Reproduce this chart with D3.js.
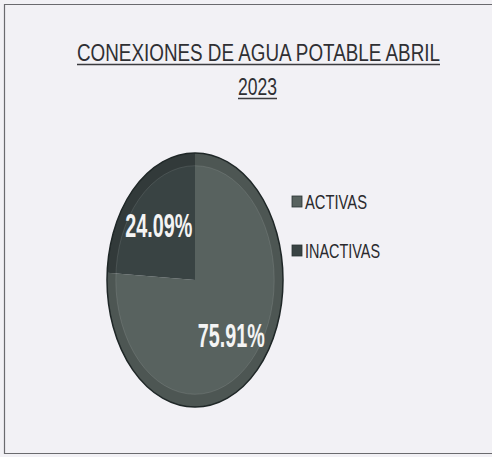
<!DOCTYPE html>
<html>
<head>
<meta charset="utf-8">
<script src="https://cdn.jsdelivr.net/npm/d3@7"></script>
<style>
  body { margin: 0; background: #f2f1f5; }
  svg { display: block; }
</style>
</head>
<body>
<div id="chart"></div>
<script>
// data
var categories = ["ACTIVAS", "INACTIVAS"];
var values = [75.91, 24.09];
var labels = ["75.91%", "24.09%"];
var titleLines = ["CONEXIONES DE AGUA POTABLE  ABRIL", "2023"];

var width = 492;
var height = 457;
// Liberation Sans squeezed with textLength looks like Arial Narrow
var narrow = "'Liberation Sans', Arial, sans-serif";

var svg = d3.select("#chart")
    .append("svg")
    .attr("width", width)
    .attr("height", height);

// page background + frame
svg.append("rect")
    .attr("width", width)
    .attr("height", height)
    .attr("fill", "#f2f1f5");

svg.append("path")
    .attr("d", "M492,4.5 H4.5 V453.5 H492")
    .attr("fill", "none")
    .attr("stroke", "#6a6a6e")
    .attr("stroke-width", 1.2);

// title, underlined
var titleSpec = [
    { x: 77, y: 61, w: 363 },
    { x: 238, y: 95, w: 39 }
];
titleLines.forEach(function(t, i) {
    var s = titleSpec[i];
    svg.append("text")
        .attr("x", s.x)
        .attr("y", s.y)
        .attr("textLength", s.w)
        .attr("lengthAdjust", "spacingAndGlyphs")
        .attr("font-family", narrow)
        .attr("font-size", 23)
        .attr("fill", "#2f2f33")
        .text(t);
    svg.append("line")
        .attr("x1", s.x)
        .attr("x2", s.x + s.w)
        .attr("y1", s.y + 3.5)
        .attr("y2", s.y + 3.5)
        .attr("stroke", "#3a3a3e")
        .attr("stroke-width", 1.6);
});

// pie (drawn round then stretched to the oval seen in the scan)
var cx = 195, cy = 280;
var radius = 88;
var squash = 127 / 88;

var color = d3.scaleOrdinal()
    .domain(categories)
    .range(["#58625f", "#394343"]);

var pie = d3.pie().sort(null).value(function(d) { return d.value; });
var arcs = pie(categories.map(function(c, i) {
    return { name: c, value: values[i], label: labels[i] };
}));

var arc = d3.arc().innerRadius(0).outerRadius(radius);
var rim = d3.arc().innerRadius(radius * 0.9).outerRadius(radius);
var labelArc = d3.arc().innerRadius(radius * 0.6).outerRadius(radius * 0.6);

var pieG = svg.append("g")
    .attr("transform", "translate(" + cx + "," + cy + ") scale(1," + squash + ")");

pieG.selectAll("path.slice")
    .data(arcs)
    .enter()
    .append("path")
    .attr("class", "slice")
    .attr("d", arc)
    .attr("fill", function(d) { return color(d.data.name); });

// darker bevel band round the edge
pieG.selectAll("path.rim")
    .data(arcs)
    .enter()
    .append("path")
    .attr("class", "rim")
    .attr("d", rim)
    .attr("fill", "#000")
    .attr("fill-opacity", 0.12);

pieG.append("circle")
    .attr("r", radius * 0.9)
    .attr("fill", "none")
    .attr("stroke", "#fff")
    .attr("stroke-opacity", 0.1)
    .attr("stroke-width", 1)
    .attr("vector-effect", "non-scaling-stroke");

pieG.append("circle")
    .attr("r", radius)
    .attr("fill", "none")
    .attr("stroke", "#1f2727")
    .attr("stroke-width", 1.5)
    .attr("vector-effect", "non-scaling-stroke");

// value labels
svg.selectAll("text.val")
    .data(arcs)
    .enter()
    .append("text")
    .attr("class", "val")
    .attr("x", function(d) { return cx + labelArc.centroid(d)[0]; })
    .attr("y", function(d) { return cy + labelArc.centroid(d)[1] * squash + 12; })
    .attr("text-anchor", "middle")
    .attr("textLength", 67)
    .attr("lengthAdjust", "spacingAndGlyphs")
    .attr("font-family", narrow)
    .attr("font-weight", "bold")
    .attr("font-size", 33)
    .attr("fill", "#f4f4f4")
    .text(function(d) { return d.data.label; });

// legend
var legendW = [62, 75];
var legend = svg.selectAll("g.leg")
    .data(categories)
    .enter()
    .append("g")
    .attr("class", "leg")
    .attr("transform", function(d, i) { return "translate(292," + (196 + i * 49) + ")"; });

legend.append("rect")
    .attr("width", 10)
    .attr("height", 11)
    .attr("fill", function(d) { return color(d); })
    .attr("stroke", "#2a3232")
    .attr("stroke-width", 0.8);

legend.append("text")
    .attr("x", 13)
    .attr("y", 13)
    .attr("textLength", function(d, i) { return legendW[i]; })
    .attr("lengthAdjust", "spacingAndGlyphs")
    .attr("font-family", narrow)
    .attr("font-size", 21)
    .attr("fill", "#2a2a2e")
    .text(function(d) { return d; });
</script>
</body>
</html>
